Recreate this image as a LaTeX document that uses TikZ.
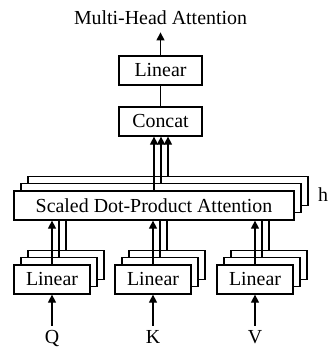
\documentclass[tikz,border=0pt]{standalone}
\usepackage{fontspec}
\setmainfont{Liberation Serif}
\usetikzlibrary{arrows.meta}
\begin{document}
\begin{tikzpicture}[x=1pt,y=-1pt,
  box/.style={draw, fill=white, line width=1.25pt, minimum height=29pt, inner sep=0pt, font=\fontsize{19.9}{22}\selectfont},
  lbl/.style={font=\fontsize{19.9}{22}\selectfont, inner sep=0pt},
  conn/.style={line width=1.25pt},
  arr/.style={line width=1.25pt, -{Triangle[length=8pt,width=8pt]}}]
\useasboundingbox (0,0) rectangle (330,349);
% title
\node[lbl, anchor=base, inner ysep=8pt] (title) at (160.5,24) {Multi-Head Attention};
% top boxes
\node[box, minimum width=83pt] (lintop) at (160.5,70.5) {Linear};
\node[box, minimum width=83pt] (concat) at (160.5,121.5) {Concat};
% scaled dot-product attention stack
\node[box, minimum width=280pt] (s3) at (168,191) {};
\node[box, minimum width=280pt] (s2) at (161,198) {};
\node[box, minimum width=280pt] (s1) at (154,205.5) {Scaled Dot-Product Attention};
\node[lbl, anchor=base] (h) at (323,201) {h};
% linear stacks
\foreach \n/\x in {q/52, k/153, v/255} {
  \node[box, minimum width=76pt] (\n3) at (\x+14,265) {};
  \node[box, minimum width=76pt] (\n2) at (\x+7,272) {};
  \node[box, minimum width=76pt] (\n1) at (\x,279.5) {Linear};
}
% inputs
\node[lbl, anchor=base, inner ysep=4pt] (Q) at (52,343) {Q};
\node[lbl, anchor=base, inner ysep=4pt] (K) at (153,343) {K};
\node[lbl, anchor=base, inner ysep=4pt] (V) at (255,343) {V};
% connectors
\draw[arr] (lintop.north) -- (title.south);
\draw[conn] (concat.north) -- (lintop.south);
\draw[arr] (s1.north) -- (s1.north |- concat.south);
\draw[arr] (s2.north) -- (s2.north |- concat.south);
\draw[arr] (s3.north) -- (s3.north |- concat.south);
\foreach \n in {q,k,v} {
  \draw[arr] (\n1.north) -- (\n1.north |- s1.south);
  \draw[conn] (\n2.north) -- (\n2.north |- s1.south);
  \draw[conn] (\n3.north) -- (\n3.north |- s1.south);
}
\draw[arr] (Q.north) -- (q1.south);
\draw[arr] (K.north) -- (k1.south);
\draw[arr] (V.north) -- (v1.south);
\end{tikzpicture}
\end{document}
